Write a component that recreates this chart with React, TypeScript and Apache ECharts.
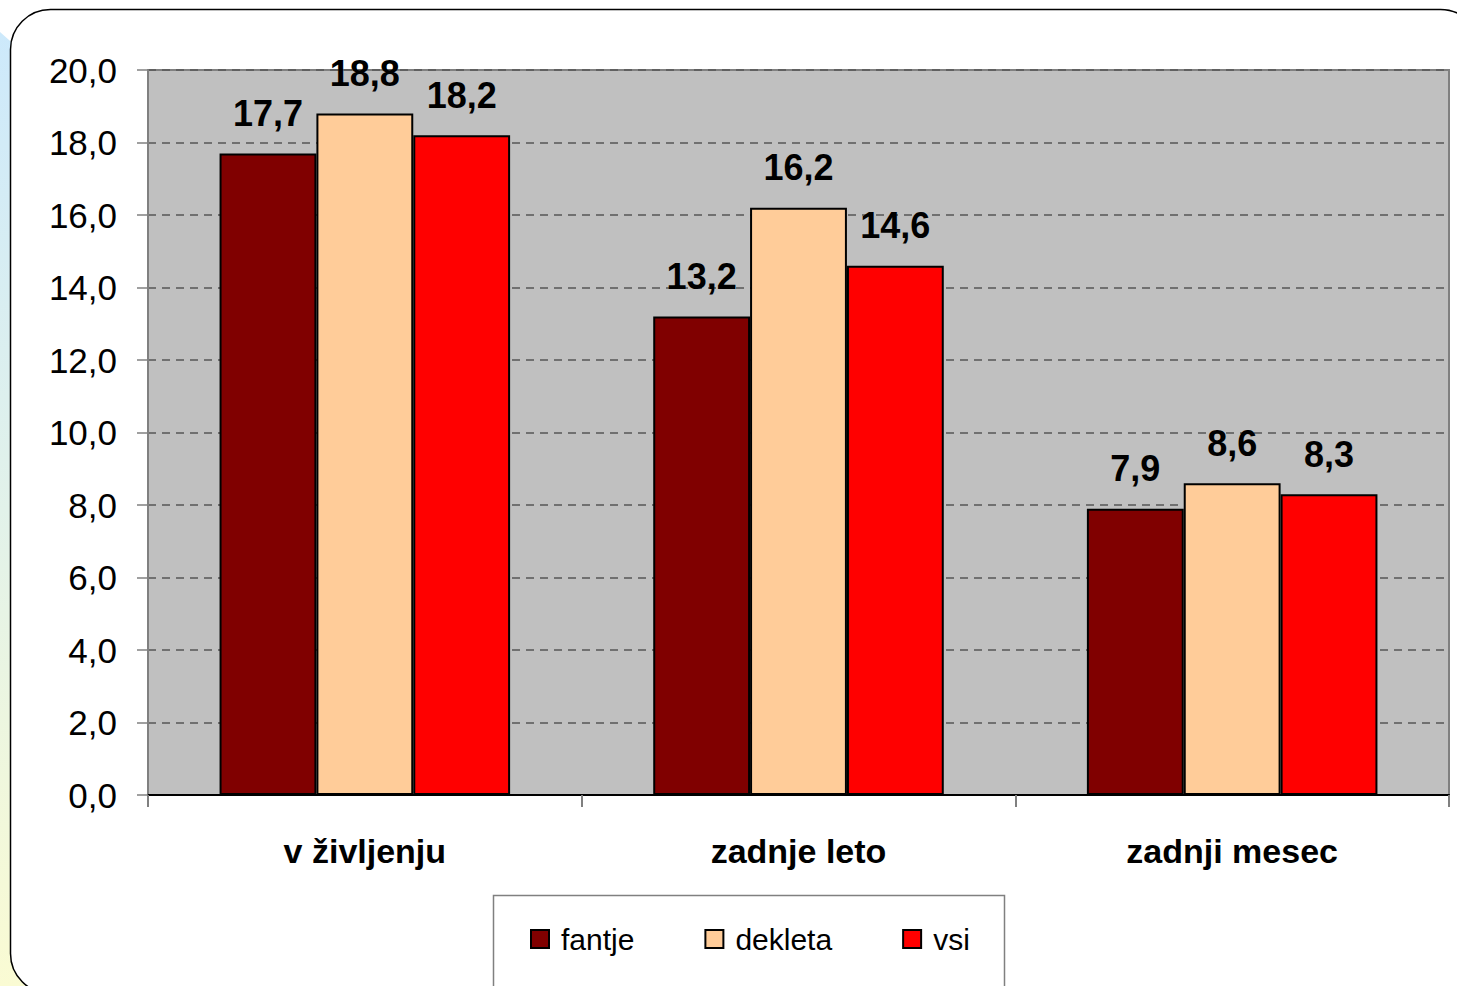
import React, { useEffect, useRef } from "react";
import * as echarts from "echarts";

const categories = ["v življenju", "zadnje leto", "zadnji mesec"];
const seriesNames = ["fantje", "dekleta", "vsi"];
const fantje = [17.7, 13.2, 7.9];
const dekleta = [18.8, 16.2, 8.6];
const vsi = [18.2, 14.6, 8.3];
const colors = ["#800000", "#FFCC99", "#FF0000"];
const yMin = 0;
const yMax = 20;
const yInterval = 2;

const fmt = (v: number) => v.toFixed(1).replace(".", ",");

export default function App() {
  const ref = useRef<HTMLDivElement>(null);
  useEffect(() => {
    document.body.style.margin = "0";
    const chart = echarts.init(ref.current!, undefined, { renderer: "svg" });
    const font = "'Liberation Sans', Arial, sans-serif";
    const values = [fantje, dekleta, vsi];
    chart.setOption({
      animation: false,
      backgroundColor: "#ffffff",
      textStyle: { fontFamily: font },
      graphic: [
        {
          type: "polygon",
          z: -20,
          silent: true,
          shape: { points: [[0, 32], [200, 210], [200, 986], [0, 986]] },
          style: {
            fill: new echarts.graphic.LinearGradient(0, 0, 0, 1, [
              { offset: 0, color: "#CDE9FB" },
              { offset: 0.5, color: "#E2F2EA" },
              { offset: 1, color: "#FAFBD3" },
            ]),
          },
        },
        {
          type: "rect",
          z: -10,
          silent: true,
          shape: { x: 10.5, y: 9.5, width: 1470, height: 984, r: 40 },
          style: { fill: "#ffffff", stroke: "#000000", lineWidth: 1.5 },
        },
        {
          type: "rect",
          z: -5,
          silent: true,
          shape: { x: 493.5, y: 895.5, width: 511, height: 120 },
          style: { fill: "#ffffff", stroke: "#808080", lineWidth: 1.5 },
        },
      ],
      grid: {
        left: 148,
        right: 8,
        top: 70,
        bottom: 191,
        show: true,
        backgroundColor: "#C0C0C0",
        borderColor: "#808080",
        borderWidth: 2,
      },
      legend: {
        data: seriesNames,
        left: 530,
        top: 924,
        padding: 0,
        itemGap: 70,
        itemWidth: 18,
        itemHeight: 18,
        icon: "rect",
        textStyle: {
          fontSize: 30,
          color: "#000",
          fontFamily: font,
          padding: [0, 0, 0, 7],
        },
      },
      xAxis: {
        type: "category",
        data: categories,
        axisLine: { show: true, lineStyle: { color: "#000", width: 2 } },
        axisTick: { show: true, length: 12, lineStyle: { color: "#808080", width: 2 } },
        axisLabel: {
          margin: 39,
          fontSize: 34,
          fontWeight: "bold",
          color: "#000",
          fontFamily: font,
        },
      },
      yAxis: {
        type: "value",
        min: yMin,
        max: yMax,
        interval: yInterval,
        axisLine: { show: true, lineStyle: { color: "#808080", width: 2 } },
        axisTick: { show: true, length: 11, lineStyle: { color: "#808080", width: 1.5 } },
        axisLabel: {
          margin: 31,
          fontSize: 35,
          color: "#000",
          fontFamily: font,
          formatter: (v: number) => fmt(v),
        },
        splitLine: {
          show: true,
          lineStyle: { color: "#555555", width: 1.5, type: [8, 6] },
        },
      },
      series: seriesNames.map((name, i) => ({
        name,
        type: "bar",
        data: values[i],
        barGap: "0%",
        barCategoryGap: "33%",
        itemStyle: { color: colors[i], borderColor: "#000", borderWidth: 2 },
        label: {
          show: true,
          position: "top",
          distance: 22,
          fontSize: 36,
          fontWeight: "bold",
          color: "#000",
          fontFamily: font,
          formatter: (p: any) => fmt(p.value),
        },
      })),
    });
    return () => chart.dispose();
  }, []);
  return <div ref={ref} style={{ width: 1457, height: 986 }} />;
}
